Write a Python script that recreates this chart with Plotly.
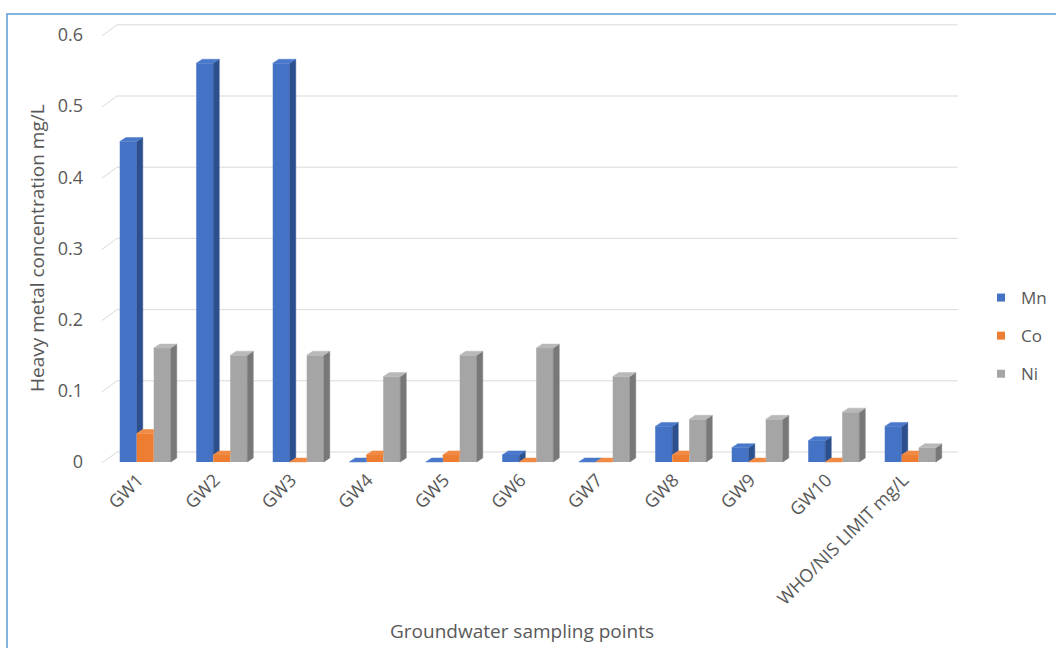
import plotly.graph_objects as go

# ---- data -------------------------------------------------------------
categories = ["GW1", "GW2", "GW3", "GW4", "GW5", "GW6", "GW7", "GW8", "GW9",
              "GW10", "WHO/NIS LIMIT mg/L"]
mn = [0.45, 0.56, 0.56, 0.0, 0.0, 0.01, 0.0, 0.05, 0.02, 0.03, 0.05]
co = [0.04, 0.01, 0.0, 0.01, 0.01, 0.0, 0.0, 0.01, 0.0, 0.0, 0.01]
ni = [0.16, 0.15, 0.15, 0.12, 0.15, 0.16, 0.12, 0.06, 0.06, 0.07, 0.02]
y_ticks = [0, 0.1, 0.2, 0.3, 0.4, 0.5, 0.6]
y_tick_text = ["0", "0.1", "0.2", "0.3", "0.4", "0.5", "0.6"]

series = [
    # name, values, front, side, top
    ("Mn", mn, "#4472C4", "#2C4F8E", "#4A78CB"),
    ("Co", co, "#ED7D31", "#B55A1C", "#F08A45"),
    ("Ni", ni, "#A5A5A5", "#787878", "#B9B9B9"),
]

# ---- page geometry (pixels) --------------------------------------------
W, H = 1056, 648
L, R, T, B = 102, 958, 20, 465      # plot area
SLOT = 76.5                         # width of one category slot
X_FIRST = 107                       # left edge of first slot (front plane)
ZERO_PX = 462                       # value 0 on the front plane
PX_PER_UNIT = 712                   # pixels per 1.0 mg/L
BAR_PX = 17                         # front width of one bar
DEPTH_PX = (6, 4)                   # bar depth (right, up)
WALL_PX = (15, 10)                  # floor depth to the back wall

x_range = [-0.5 - (X_FIRST - L) / SLOT, -0.5 + (R - X_FIRST) / SLOT]
y_range = [-(B - ZERO_PX) / PX_PER_UNIT, (ZERO_PX - T) / PX_PER_UNIT]

BW = BAR_PX / SLOT
DX = DEPTH_PX[0] / SLOT
DY = DEPTH_PX[1] / PX_PER_UNIT
WDX = WALL_PX[0] / SLOT
WDY = WALL_PX[1] / PX_PER_UNIT


def paper_x(px):
    return (px - L) / (R - L)


def paper_y(py):
    return (B - py) / (B - T)


idx = list(range(len(categories)))
fig = go.Figure()

# front faces
for k, (name, vals, front, side, top) in enumerate(series):
    fig.add_trace(go.Bar(
        x=idx, y=vals, width=BW, offset=-1.5 * BW + k * BW,
        marker=dict(color=front, line=dict(width=0)),
        name=name, showlegend=False, hovertemplate=name + ": %{y}<extra></extra>",
    ))


def add_poly(xs, ys, poly):
    for px_, py_ in poly:
        xs.append(px_)
        ys.append(py_)
    xs.append(poly[0][0])
    ys.append(poly[0][1])
    xs.append(None)
    ys.append(None)


# side and top faces, built from the same values
for k, (name, vals, front, side, top) in enumerate(series):
    nxt = series[k + 1][1] if k + 1 < len(series) else None
    sx, sy, tx, ty = [], [], [], []
    for i, v in enumerate(vals):
        xl = i - 1.5 * BW + k * BW
        xr = xl + BW
        c = nxt[i] if nxt is not None else 0.0
        base = c if nxt is not None else 0.0
        # right side face (hidden below the neighbour's height)
        if v > base:
            add_poly(sx, sy, [(xr, base), (xr + DX, base + DY),
                              (xr + DX, v + DY), (xr, v)])
        # top face
        if nxt is None or c <= v:
            poly = [(xl, v), (xl + DX, v + DY), (xr + DX, v + DY), (xr, v)]
        elif c >= v + DY:
            poly = [(xl, v), (xl + DX, v + DY), (xr, v + DY), (xr, v)]
        else:
            poly = [(xl, v), (xl + DX, v + DY), (xr + DX, v + DY),
                    (xr + (c - v) * DX / DY, c), (xr, c), (xr, v)]
        add_poly(tx, ty, poly)
    for xs, ys, col in ((sx, sy, side), (tx, ty, top)):
        fig.add_trace(go.Scatter(
            x=xs, y=ys, mode="lines", fill="toself", fillcolor=col,
            line=dict(color=col, width=0.5), hoverinfo="skip",
            showlegend=False,
        ))

# legend entries
for k, (name, vals, front, side, top) in enumerate(series):
    fig.add_trace(go.Scatter(
        x=[None], y=[None], mode="markers", name=name, legendgroup=name,
        marker=dict(symbol="square", size=8, color=front),
    ))

# back wall gridlines with the floor-to-wall diagonals
shapes = []
for v in y_ticks:
    shapes.append(dict(type="line", xref="x", yref="y", layer="below",
                       x0=x_range[0] + WDX, x1=x_range[1], y0=v + WDY, y1=v + WDY,
                       line=dict(color="#D9D9D9", width=1)))
    shapes.append(dict(type="line", xref="x", yref="y", layer="below",
                       x0=x_range[0], x1=x_range[0] + WDX,
                       y0=v - 1 / PX_PER_UNIT, y1=v + WDY,
                       line=dict(color="#D9D9D9", width=1)))
# chart frame
shapes.append(dict(type="rect", xref="paper", yref="paper",
                   x0=paper_x(7), x1=paper_x(1070), y0=paper_y(670), y1=paper_y(14),
                   line=dict(color="#5B9BD5", width=1.5), fillcolor="rgba(0,0,0,0)"))

font_family = "Open Sans, DejaVu Sans, sans-serif"
text_col = "#595959"

fig.update_layout(
    width=W, height=H,
    margin=dict(l=L, r=W - R, t=T, b=H - B, pad=0, autoexpand=False),
    paper_bgcolor="white", plot_bgcolor="white",
    barmode="overlay",
    font=dict(family=font_family, color=text_col, size=17),
    xaxis=dict(range=x_range, tickmode="array", tickvals=idx, ticktext=categories,
               tickangle=-45, showgrid=False, zeroline=False, showline=False,
               ticks="", ticklabelshift=-7, tickfont=dict(size=18, color=text_col),
               automargin=False),
    yaxis=dict(range=y_range, tickmode="array", tickvals=y_ticks,
               ticktext=y_tick_text, showgrid=False, zeroline=False,
               showline=False, ticks="", ticklabelstandoff=18, automargin=False,
               tickfont=dict(size=18, color=text_col)),
    legend=dict(xref="container", yref="container",
                x=981 / W, y=1 - 280 / H, xanchor="left", yanchor="top",
                font=dict(size=17, color=text_col), tracegroupgap=13,
                itemwidth=30, bgcolor="rgba(0,0,0,0)"),
    shapes=shapes,
    annotations=[
        dict(text="Groundwater sampling points", xref="paper", yref="paper",
             x=paper_x(522), y=paper_y(631), showarrow=False,
             font=dict(size=19, color=text_col), xanchor="center", yanchor="middle"),
        dict(text="Heavy metal concentration mg/L", xref="paper", yref="paper",
             x=paper_x(37), y=paper_y(248), showarrow=False, textangle=-90,
             font=dict(size=19, color=text_col), xanchor="center", yanchor="middle"),
    ],
)

fig.write_html("out.html")
